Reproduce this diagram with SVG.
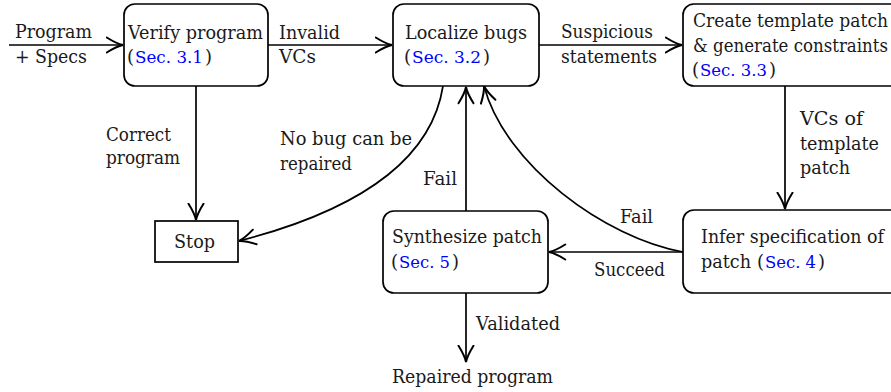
<svg xmlns="http://www.w3.org/2000/svg" width="891" height="392" viewBox="0 0 891 392">
<style>
text{font-family:'DejaVu Serif','Liberation Serif',serif;font-size:18px;fill:#1a1a1a}
.ref{fill:#0000ff;font-size:17px}
.box{fill:#fff;stroke:#000;stroke-width:1.7}
.edge{fill:none;stroke:#000;stroke-width:1.7}
</style>
<defs>
<marker id="ah" markerUnits="userSpaceOnUse" markerWidth="20" markerHeight="20" viewBox="-14 -8 16 16" refX="0" refY="0" orient="auto">
<path d="M-13,-6 C-9,-3.5 -3,-0.6 0,0 C-3,0.6 -9,3.5 -13,6" fill="none" stroke="#000" stroke-width="1.6" stroke-linecap="round"/>
</marker>
</defs>
<rect width="891" height="392" fill="#fff"/>

<g id="connectors">
<path class="edge" d="M9,45 H123" marker-end="url(#ah)"/>
<path class="edge" d="M268,45 H392" marker-end="url(#ah)"/>
<path class="edge" d="M539,45 H682" marker-end="url(#ah)"/>
<path class="edge" d="M785,86 V209" marker-end="url(#ah)"/>
<path class="edge" d="M683,252 H549" marker-end="url(#ah)"/>
<path class="edge" d="M683,252 C605,238 505,165 484,86" marker-end="url(#ah)"/>
<path class="edge" d="M466,211 V87" marker-end="url(#ah)"/>
<path class="edge" d="M443,86 C430,170 340,215 239,241" marker-end="url(#ah)"/>
<path class="edge" d="M196,86 V220" marker-end="url(#ah)"/>
<path class="edge" d="M466,293 V362" marker-end="url(#ah)"/>
<text x="15" y="38" textLength="77" lengthAdjust="spacingAndGlyphs">Program</text>
<text x="15" y="63" textLength="72" lengthAdjust="spacingAndGlyphs">+ Specs</text>
<text x="279" y="39" textLength="61" lengthAdjust="spacingAndGlyphs">Invalid</text>
<text x="279" y="63" textLength="37" lengthAdjust="spacingAndGlyphs">VCs</text>
<text x="561" y="38" textLength="92" lengthAdjust="spacingAndGlyphs">Suspicious</text>
<text x="561" y="63" textLength="96" lengthAdjust="spacingAndGlyphs">statements</text>
<text x="800" y="125" textLength="63" lengthAdjust="spacingAndGlyphs">VCs of</text>
<text x="800" y="150" textLength="79" lengthAdjust="spacingAndGlyphs">template</text>
<text x="800" y="174" textLength="50" lengthAdjust="spacingAndGlyphs">patch</text>
<text x="106" y="141" textLength="65" lengthAdjust="spacingAndGlyphs">Correct</text>
<text x="106" y="164" textLength="74" lengthAdjust="spacingAndGlyphs">program</text>
<text x="280" y="145" textLength="132" lengthAdjust="spacingAndGlyphs">No bug can be</text>
<text x="280" y="170" textLength="72" lengthAdjust="spacingAndGlyphs">repaired</text>
<text x="423" y="185" textLength="34" lengthAdjust="spacingAndGlyphs">Fail</text>
<text x="620" y="223" textLength="33" lengthAdjust="spacingAndGlyphs">Fail</text>
<text x="594" y="276" textLength="71" lengthAdjust="spacingAndGlyphs">Succeed</text>
<text x="476" y="330" textLength="84" lengthAdjust="spacingAndGlyphs">Validated</text>
<text x="392" y="383" textLength="161" lengthAdjust="spacingAndGlyphs">Repaired program</text>
</g>

<g id="verify">
<rect class="box" x="124" y="4" width="144" height="82" rx="11"/>
<text x="128" y="39" textLength="135" lengthAdjust="spacingAndGlyphs">Verify program</text>
<text x="127" y="63">(</text>
<text class="ref" x="135" y="63" textLength="68" lengthAdjust="spacingAndGlyphs">Sec. 3.1</text>
<text x="205" y="63">)</text>
</g>

<g id="localize">
<rect class="box" x="393" y="4" width="146" height="82" rx="11"/>
<text x="405" y="39" textLength="122" lengthAdjust="spacingAndGlyphs">Localize bugs</text>
<text x="404" y="63">(</text>
<text class="ref" x="412" y="63" textLength="69" lengthAdjust="spacingAndGlyphs">Sec. 3.2</text>
<text x="483" y="63">)</text>
</g>

<g id="template">
<rect class="box" x="683" y="4" width="220" height="82" rx="11"/>
<text x="693" y="27" textLength="195" lengthAdjust="spacingAndGlyphs">Create template patch</text>
<text x="693" y="52" textLength="195" lengthAdjust="spacingAndGlyphs">&amp; generate constraints</text>
<text x="692" y="76">(</text>
<text class="ref" x="700" y="76" textLength="67" lengthAdjust="spacingAndGlyphs">Sec. 3.3</text>
<text x="769" y="76">)</text>
</g>

<g id="infer">
<rect class="box" x="683" y="210" width="220" height="83" rx="11"/>
<text x="701" y="243" textLength="183" lengthAdjust="spacingAndGlyphs">Infer specification of</text>
<text x="701" y="268" textLength="50" lengthAdjust="spacingAndGlyphs">patch</text>
<text x="757" y="268">(</text>
<text class="ref" x="765" y="268" textLength="51" lengthAdjust="spacingAndGlyphs">Sec. 4</text>
<text x="818" y="268">)</text>
</g>

<g id="synthesize">
<rect class="box" x="383" y="211" width="165" height="82" rx="11"/>
<text x="392" y="243" textLength="150" lengthAdjust="spacingAndGlyphs">Synthesize patch</text>
<text x="391" y="268">(</text>
<text class="ref" x="399" y="268" textLength="51" lengthAdjust="spacingAndGlyphs">Sec. 5</text>
<text x="452" y="268">)</text>
</g>

<g id="stop">
<rect class="box" x="155" y="221" width="83" height="41"/>
<text x="174" y="248" textLength="41" lengthAdjust="spacingAndGlyphs">Stop</text>
</g>
</svg>
